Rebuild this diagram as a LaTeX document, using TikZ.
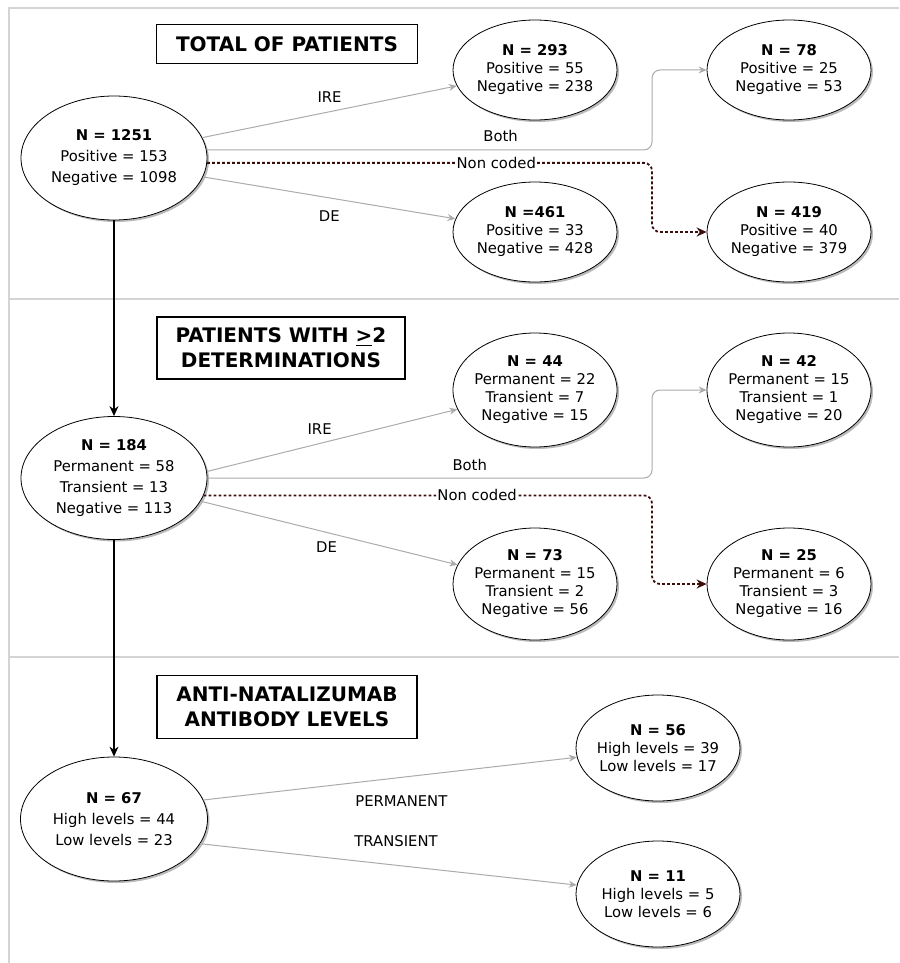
\documentclass[tikz,border=0pt]{standalone}
\usepackage{fontspec}
\setmainfont{DejaVu Sans}
\usepackage{tikz}
\usetikzlibrary{shapes.geometric}
\usetikzlibrary{arrows.meta}
\usetikzlibrary{shadows}
\usetikzlibrary{positioning}
\definecolor{framegray}{HTML}{D4D4D4}
\definecolor{linkgray}{HTML}{ABABAB}
\definecolor{noncoded}{HTML}{3A0C0C}
\tikzstyle{oval} = [ellipse, draw, fill=white, align=center, inner sep=0pt, inner xsep=-3pt,
    minimum width=82pt, minimum height=50pt, font=\fontsize{7.4}{9}\selectfont,
    drop shadow={shadow xshift=1pt,shadow yshift=-1pt,fill=black!45,opacity=.6}]
\tikzstyle{bigoval} = [oval, minimum width=93pt, minimum height=62pt, font=\fontsize{7.4}{10.5}\selectfont]
\tikzstyle{title} = [rectangle, draw, line width=0.7pt, align=center, font=\fontsize{10}{12.5}\selectfont\bfseries]
\tikzstyle{grayline} = [draw, linkgray, line width=0.5pt, -{Stealth[length=4pt,width=3.5pt]}]
\tikzstyle{mainline} = [draw, line width=0.6pt, -{Stealth[length=5pt,width=4.5pt]}]
\tikzstyle{dotline} = [draw, noncoded, dash pattern=on 1.4pt off 1.1pt, line width=0.9pt, -{Stealth[length=5pt,width=4.5pt]}]
\tikzstyle{lbl} = [font=\fontsize{7.4}{9}\selectfont, text=black]
\tikzstyle{frame} = [draw, framegray, line width=1pt]

\begin{document}
\begin{tikzpicture}[x=0.5pt,y=-0.5pt]
    \useasboundingbox (0,0) rectangle (899,963);
    % Frame
    \path [frame] (899,8) -- (9,8) -- (9,963);
    \path [frame] (9,299) -- (899,299);
    \path [frame] (9,657) -- (899,657);
    \coordinate (bend) at (652,0);

    % Place nodes
    \node [title, minimum width=130.5pt, minimum height=19.5pt] (total) at (287,44) {TOTAL OF PATIENTS};
    \node [bigoval] (n1251) at (114,158) {\textbf{N = 1251}\\Positive = 153\\Negative = 1098};
    \node [oval] (n293) at (535,70) {\textbf{N = 293}\\Positive = 55\\Negative = 238};
    \node [oval, right of=n293, node distance=127pt] (n78) {\textbf{N = 78}\\Positive = 25\\Negative = 53};
    \node [oval, below of=n293, node distance=81pt] (n461) {\textbf{N =461}\\Positive = 33\\Negative = 428};
    \node [oval, right of=n461, node distance=127pt] (n419) {\textbf{N = 419}\\Positive = 40\\Negative = 379};

    \node [title, minimum width=124pt, minimum height=31pt] (twice) at (281,348) {PATIENTS WITH \underline{>}2\\ DETERMINATIONS};
    \node [bigoval, minimum height=61.5pt] (n184) at (114,478) {\textbf{N = 184}\\Permanent = 58\\Transient = 13\\Negative = 113};
    \node [oval, minimum height=57pt] (n44) at (535,390) {\textbf{N = 44}\\Permanent = 22\\Transient = 7\\Negative = 15};
    \node [oval, minimum height=57pt, right of=n44, node distance=127pt] (n42) {\textbf{N = 42}\\Permanent = 15\\Transient = 1\\Negative = 20};
    \node [oval, minimum height=56pt] (n73) at (535,584) {\textbf{N = 73}\\Permanent = 15\\Transient = 2\\Negative = 56};
    \node [oval, minimum height=56pt, right of=n73, node distance=127pt] (n25) {\textbf{N = 25}\\Permanent = 6\\Transient = 3\\Negative = 16};

    \node [title, minimum width=130pt, minimum height=31.5pt] (levels) at (287,707) {ANTI-NATALIZUMAB\\ANTIBODY LEVELS};
    \node [bigoval, minimum width=93.5pt] (n67) at (114,819) {\textbf{N = 67}\\High levels = 44\\Low levels = 23};
    \node [oval, minimum height=53pt] (n56) at (658,748) {\textbf{N = 56}\\High levels = 39\\Low levels = 17};
    \node [oval, minimum height=53pt, below of=n56, node distance=73pt] (n11) {\textbf{N = 11}\\High levels = 5\\Low levels = 6};

    % Draw edges
    \path [mainline] (n1251) -- (n184);
    \path [mainline] (n184) -- (n67);

    \path [grayline] (n1251.13) -- node[lbl, above=1pt] {IRE} (n293);
    \path [grayline, rounded corners=4pt] (n1251.5) -- node[lbl, pos=0.66, above=0.5pt] {Both} (n1251.5 -| bend) |- (n78.west);
    \path [dotline, rounded corners=4pt] (n1251.-3) -- node[lbl, pos=0.65, fill=white, inner sep=0.5pt] {Non coded} (n1251.-3 -| bend) |- (n419.west);
    \path [grayline] (n1251.-12.5) -- node[lbl, below=3pt] {DE} (n461);

    \path [grayline] (n184.4) -- node[lbl, pos=0.45, above=1pt] {IRE} (n44);
    \path [grayline, rounded corners=4pt] (n184.0) -- node[lbl, pos=0.59, above=0pt] {Both} (n184.0 -| bend) |- (n42.west);
    \path [dotline, rounded corners=4pt] (n184.-11) -- node[lbl, pos=0.61, fill=white, inner sep=0.5pt] {Non coded} (n184.-11 -| bend) |- (n25.west);
    \path [grayline] (n184.-15) -- node[lbl, pos=0.49, below=1pt] {DE} (n73);

    \path [grayline] (n67.12) -- node[lbl, pos=0.53, below=5.5pt] {PERMANENT} (n56);
    \path [grayline] (n67.-16) -- node[lbl, pos=0.52, above=5.5pt] {TRANSIENT} (n11);
\end{tikzpicture}
\end{document}
